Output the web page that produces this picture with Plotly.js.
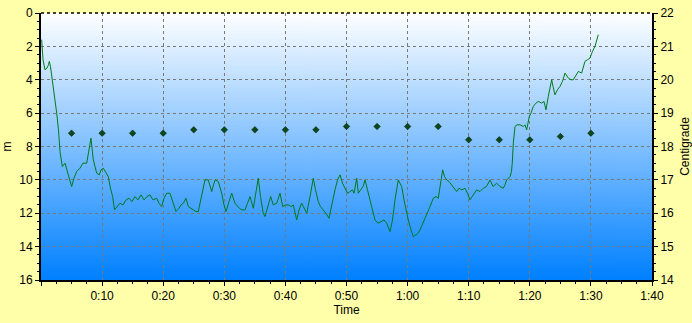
<!DOCTYPE html>
<html>
<head>
<meta charset="utf-8">
<script src="https://cdn.plot.ly/plotly-3.0.1.min.js"></script>
<style>html,body{margin:0;padding:0;background:#FFFFAA;}#chart{width:692px;height:323px;}</style>
</head>
<body>
<div id="chart"></div>
<script>
// Depth profile: time in minutes, depth in metres
const depthTime = [0.11,0.33,0.65,0.98,1.23,1.36,1.55,1.91,2.57,2.86,3.11,3.49,3.93,4.47,5.02,5.40,5.84,6.38,6.87,7.48,7.86,8.18,8.56,9.12,9.54,9.82,10.20,10.64,11.01,11.37,11.73,12.03,12.44,12.93,13.42,13.91,14.40,14.89,15.38,15.88,16.37,16.86,17.35,17.84,18.33,18.94,19.31,19.75,20.13,20.57,21.11,21.60,22.09,22.59,22.91,23.29,23.73,24.11,24.47,24.93,25.37,25.74,26.27,26.84,27.38,27.94,28.23,28.48,29.02,29.57,29.95,30.28,30.77,31.21,31.75,32.45,32.90,33.39,33.80,34.21,34.75,35.19,35.56,35.92,36.38,36.66,37.15,37.59,38.02,38.58,39.12,39.56,40.02,40.47,40.92,41.29,41.85,42.23,42.67,43.04,43.49,44.03,44.57,44.93,45.38,45.74,46.20,46.64,47.14,47.63,48.12,48.53,48.94,49.35,49.75,50.16,50.57,50.98,51.23,51.67,51.93,52.37,52.70,53.03,53.44,53.85,54.26,54.66,55.16,55.76,56.14,56.58,56.87,57.12,57.53,57.94,58.48,58.76,59.03,59.41,59.74,60.11,60.56,60.93,61.37,61.70,62.03,62.52,63.13,63.67,64.21,64.65,65.02,65.38,65.74,66.04,66.40,66.78,67.22,67.59,68.04,68.41,68.90,69.39,69.80,70.21,70.70,71.31,71.85,72.39,72.91,73.49,73.98,74.58,75.12,75.66,75.94,76.22,76.76,77.00,77.13,77.30,77.58,77.91,78.40,78.94,79.21,79.49,79.92,80.20,80.57,81.01,81.39,81.95,82.32,82.65,83.03,83.31,83.58,83.80,84.12,84.53,84.94,85.35,85.76,86.30,86.74,87.12,87.56,87.94,88.49,88.79,89.03,89.44,89.85,90.26,90.67,91.21];
const depth = [1.6,2.8,3.4,3.3,3.1,2.9,3.2,4.1,6.0,7.0,8.3,9.2,9.0,9.7,10.4,9.9,9.5,9.3,9.0,9.0,8.3,7.5,8.8,9.6,9.7,9.4,9.3,9.6,9.8,10.5,11.0,11.8,11.6,11.4,11.5,11.2,11.1,11.3,11.0,11.2,10.9,11.2,11.0,10.9,11.2,11.1,11.4,11.6,11.1,10.8,10.8,11.4,11.9,11.7,11.5,11.4,11.1,11.6,11.7,11.8,11.9,11.9,11.0,10.0,10.0,10.7,10.3,10.0,10.1,10.8,11.5,11.9,11.3,10.8,11.4,11.7,11.8,11.8,11.4,11.0,11.7,10.8,9.9,11.0,12.0,12.2,11.5,11.0,11.5,11.4,10.8,11.6,11.5,11.5,11.6,11.5,12.4,11.8,11.4,11.7,12.0,11.0,9.9,10.6,11.3,11.6,11.8,12.0,12.3,11.4,10.6,10.0,9.7,10.2,10.5,10.8,10.7,10.6,10.8,9.9,10.8,10.6,10.4,10.0,10.6,11.2,11.9,12.4,12.6,12.5,12.4,12.6,12.9,13.1,12.4,11.2,10.0,10.2,10.4,11.2,11.8,12.4,13.0,13.4,13.3,13.2,13.0,12.6,12.0,11.6,11.1,11.0,11.1,10.2,9.4,9.8,10.0,10.1,10.3,10.5,10.7,10.5,10.6,10.5,10.8,11.2,10.9,10.6,10.7,10.5,10.4,10.0,10.4,10.2,10.4,10.5,10.3,10.0,9.8,9.5,9.0,7.8,6.8,6.7,6.7,6.8,6.7,7.0,6.2,6.0,5.6,5.4,5.3,5.4,5.3,5.8,5.0,4.5,4.0,4.4,4.9,4.6,4.4,4.1,3.6,3.9,4.0,4.0,3.7,3.5,3.6,3.2,2.9,2.8,2.7,2.3,2.0,1.3];

// Water temperature samples (Centigrade)
const tempTime = [5,10,15,20,25,30,35,40,45,50,55,60,65,70,75,80,85,90];
const temperature = [18.4,18.4,18.4,18.4,18.5,18.5,18.5,18.5,18.5,18.6,18.6,18.6,18.6,18.2,18.2,18.2,18.3,18.4];

// Axis ticks
const timeTickVals = [0,10,20,30,40,50,60,70,80,90,100];
const timeTickText = ["","0:10","0:20","0:30","0:40","0:50","1:00","1:10","1:20","1:30","1:40"];

// gradient background image
const cv = document.createElement('canvas');
cv.width = 8; cv.height = 400;
const ctx = cv.getContext('2d');
const g = ctx.createLinearGradient(0,0,0,400);
g.addColorStop(0,'#FFFFFF');
g.addColorStop(1,'#0080FF');
ctx.fillStyle = g; ctx.fillRect(0,0,8,400);
const bgURL = cv.toDataURL('image/png');

const font = {family: '"Liberation Sans Narrow", "Liberation Sans", Arial, sans-serif', size: 12, color: '#000'};
const gridDash = '3px,3px';

const traces = [
  {x: depthTime, y: depth, type: 'scatter', mode: 'lines', line: {color: '#007A1E', width: 1}, yaxis: 'y', hoverinfo: 'skip'},
  {x: tempTime, y: temperature, type: 'scatter', mode: 'markers', marker: {symbol: 'diamond', size: 5, color: '#0A4A1A', line: {color: '#001000', width: 0.5}}, yaxis: 'y2', hoverinfo: 'skip'}
];

const layout = {
  width: 692, height: 323,
  margin: {l: 41, r: 40, t: 13, b: 43},
  paper_bgcolor: '#FFFFAA',
  plot_bgcolor: 'rgba(0,0,0,0)',
  showlegend: false,
  font: font,
  images: [{source: bgURL, xref: 'paper', yref: 'paper', x: 0, y: 1, sizex: 1, sizey: 1, sizing: 'stretch', xanchor: 'left', yanchor: 'top', layer: 'below'}],
  xaxis: {
    range: [0, 100], tickvals: timeTickVals, ticktext: timeTickText,
    showgrid: true, gridcolor: '#787878', griddash: gridDash, gridwidth: 1,
    showline: true, linecolor: '#000', linewidth: 2,
    ticks: 'outside', ticklen: 4, tickcolor: '#000',
    minor: {dtick: 2.5, ticks: 'outside', ticklen: 2, tickcolor: '#000', showgrid: false},
    zeroline: false, fixedrange: true,
    title: {text: 'Time', font: font, standoff: 2}
  },
  yaxis: {
    range: [16, 0], dtick: 2, tick0: 0,
    showgrid: true, gridcolor: '#787878', griddash: gridDash, gridwidth: 1,
    showline: true, linecolor: '#000', linewidth: 2,
    ticks: 'outside', ticklen: 4, tickcolor: '#000',
    minor: {dtick: 0.5, ticks: 'outside', ticklen: 2, tickcolor: '#000', showgrid: false},
    zeroline: false, fixedrange: true,
    title: {text: 'm', font: font, standoff: 14}
  },
  yaxis2: {
    range: [14, 22], dtick: 1, tick0: 14, overlaying: 'y', side: 'right',
    showgrid: false,
    showline: true, linecolor: '#000', linewidth: 2,
    ticks: 'outside', ticklen: 4, tickcolor: '#000',
    minor: {dtick: 0.25, ticks: 'outside', ticklen: 2, tickcolor: '#000', showgrid: false},
    zeroline: false, fixedrange: true,
    title: {text: 'Centigrade', font: font, standoff: 8}
  },
  shapes: [{type: 'line', xref: 'paper', yref: 'paper', x0: 0, x1: 1, y0: 1, y1: 1, line: {color: '#000', width: 1.5, dash: '3px,3px'}}]
};

Plotly.newPlot('chart', traces, layout, {displayModeBar: false, staticPlot: true});
</script>
</body>
</html>
